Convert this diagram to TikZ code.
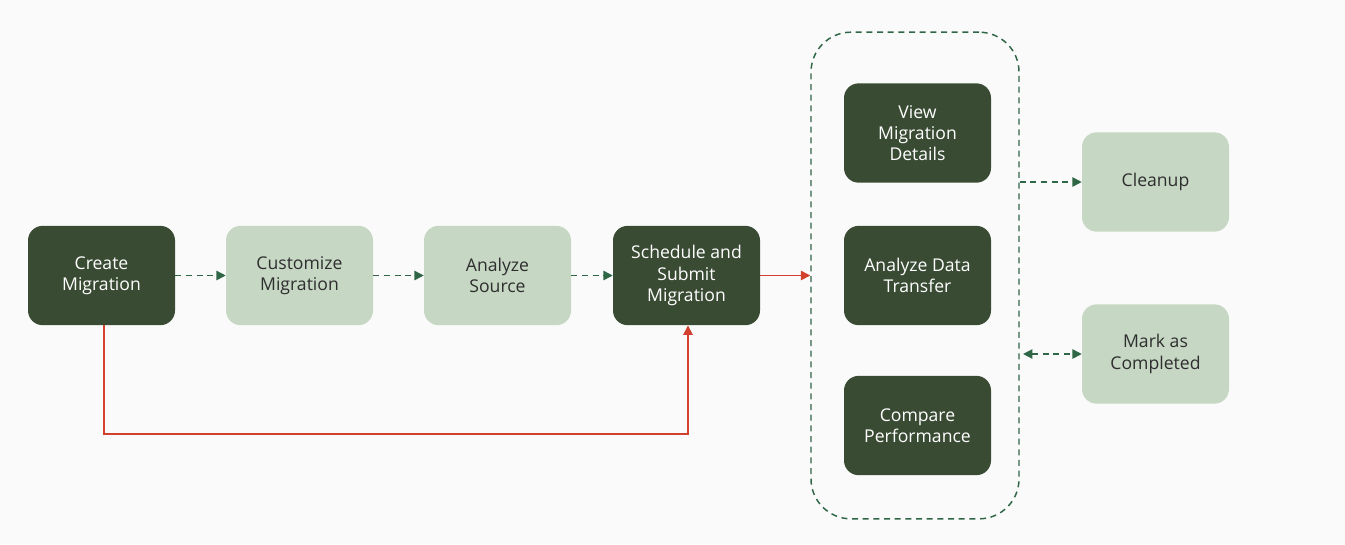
\documentclass[tikz,border=0pt]{standalone}
\usepackage{fontspec}
\setmainfont{Open Sans}
\usetikzlibrary{arrows.meta}
\definecolor{bg}{HTML}{FAFAFA}
\definecolor{darkbox}{HTML}{3A4B34}
\definecolor{lightbox}{HTML}{C6D7C4}
\definecolor{arrgreen}{HTML}{2E6646}
\definecolor{arrred}{HTML}{D2412E}
\definecolor{txtdark}{HTML}{2E2E2E}
\tikzset{
  px/.style={x=0.75pt,y=-0.75pt},
  box/.style={rounded corners=11pt, minimum width=110.25pt, minimum height=74.5pt, align=center, inner sep=2pt,
    font=\fontsize{13.2pt}{16pt}\selectfont},
  darkb/.style={box, fill=darkbox, text=white},
  lightb/.style={box, fill=lightbox, text=txtdark},
  garrow/.style={draw=arrgreen, line width=1.1pt, dash pattern=on 4.5pt off 3.5pt, -{Triangle[length=7pt,width=7pt]}},
  rarrow/.style={draw=arrred, line width=1.1pt, -{Triangle[length=7pt,width=7pt]}},
}
\begin{document}
\begin{tikzpicture}[px]
\fill[bg] (0,0) rectangle (1345,544);
\useasboundingbox (0,0) rectangle (1345,544);
\node[darkb] (create) at (101.5,275.5) {Create\\Migration};
\node[lightb] (custom) at (299.5,275.5) {Customize\\Migration};
\node[lightb] (asrc) at (497.5,275.5) {Analyze\\Source};
\node[darkb] (sched) at (686.5,275.5) {Schedule and\\Submit\\Migration};
\node[draw=arrgreen, line width=1.1pt, dash pattern=on 4.5pt off 3.5pt, rounded corners=30pt, minimum width=156pt, minimum height=365pt] (group) at (915,275.5) {};
\node[darkb] (view) at (917.5,133) {View\\Migration\\Details};
\node[darkb] (adt) at (917.5,275.5) {Analyze Data\\Transfer};
\node[darkb] (cmp) at (917.5,425.5) {Compare\\Performance};
\node[lightb] (clean) at (1155.5,182) {Cleanup};
\node[lightb] (mark) at (1155.5,354) {Mark as\\Completed};
\draw[garrow] (create.east) -- (custom.west);
\draw[garrow] (custom.east) -- (asrc.west);
\draw[garrow] (asrc.east) -- (sched.west);
\draw[rarrow] (sched.east) -- (group.west);
\draw[rarrow] (create.south -| 104,0) -- (104,434) -- (688,434) -- (sched.south -| 688,0);
\coordinate (c1) at (group.east |- clean.west);
\draw[garrow] (c1) -- (clean.west);
\coordinate (m1) at ([xshift=2.5pt]group.east |- mark.west);
\draw[garrow, {Triangle[length=7pt,width=7pt]}-{Triangle[length=7pt,width=7pt]}] (m1) -- (mark.west);
\end{tikzpicture}
\end{document}
